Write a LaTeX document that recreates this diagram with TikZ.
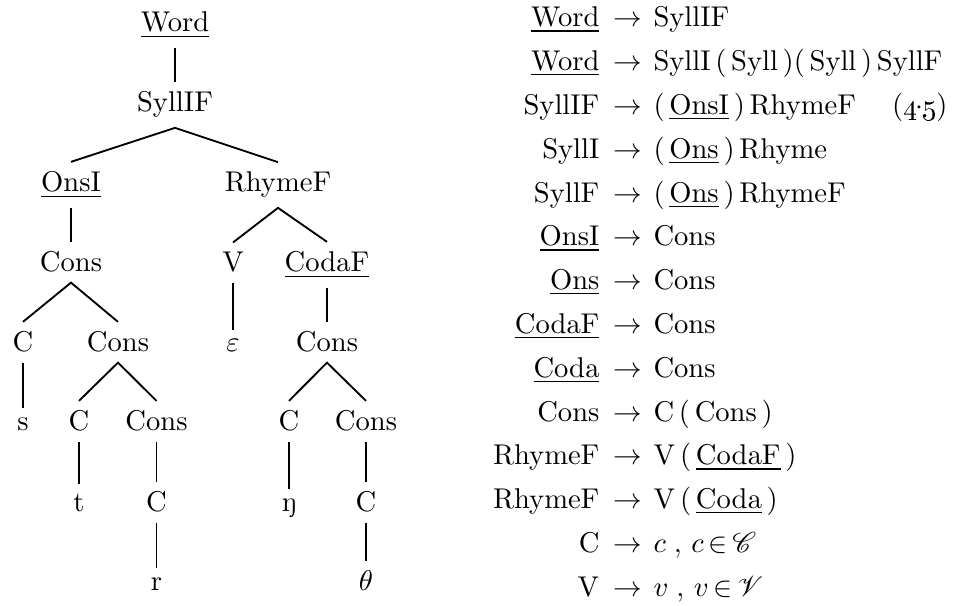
\documentclass[tikz,border=0pt]{standalone}
\usepackage{mathrsfs}
\tikzset{
  tnode/.style={anchor=base, inner xsep=1pt, inner ysep=3.3pt},
  branch/.style={line width=0.65pt},
  lhs/.style={anchor=base east, inner sep=0pt},
  arr/.style={anchor=base, inner sep=0pt},
  rhs/.style={anchor=base west, inner sep=0pt},
}
\newcommand\ulm[1]{\underline{\mathrm{#1}}}
% one production: name, baseline, left side, right side
\newcommand\prodrule[4]{%
  \node[lhs] (#1l) at (600,#2) {$#3$};
  \node[arr] (#1a) at (627.5,#2) {$\rightarrow$};
  \node[rhs] (#1r) at (653,#2) {$#4$};}
\begin{document}
\begin{tikzpicture}[x=0.35pt,y=-0.35pt]
\useasboundingbox (0,0) rectangle (956,606);

% ---- derivation tree ----
\node[tnode] (w)   at (175,32)  {\underline{Word}};
\node[tnode] (s)   at (175,112) {SyllIF};
\node[tnode] (o)   at (71,192)  {\underline{OnsI}};
\node[tnode] (rh)  at (278,192) {RhymeF};
\node[tnode] (c1)  at (71,272)  {Cons};
\node[tnode] (v)   at (233,272) {V};
\node[tnode] (cf)  at (327,272) {\underline{CodaF}};
\node[tnode] (c2)  at (23,352)  {C};
\node[tnode] (c3)  at (118,352) {Cons};
\node[tnode] (e)   at (233,352) {$\varepsilon$};
\node[tnode] (c4)  at (327,352) {Cons};
\node[tnode] (s1)  at (23,431)  {s};
\node[tnode] (c5)  at (79,431)  {C};
\node[tnode] (c6)  at (156.5,431) {Cons};
\node[tnode] (c7)  at (289,431) {C};
\node[tnode] (c8)  at (366,431) {Cons};
\node[tnode] (t)   at (79,512)  {t};
\node[tnode] (c9)  at (156.5,512) {C};
\node[tnode] (eng) at (289,512) {ŋ};
\node[tnode] (c10) at (366,512) {C};
\node[tnode] (r)   at (156.5,591) {r};
\node[tnode] (th)  at (366,591) {$\theta$};

\draw[branch] (w.south) -- (s.north);
\draw[branch] (o.north) -- (s.south) -- (rh.north);
\draw[branch] (o.south) -- (c1.north);
\draw[branch] (v.north) -- (rh.south) -- (cf.north);
\draw[branch] (c2.north) -- (c1.south) -- (c3.north);
\draw[branch] (v.south) -- (e.north);
\draw[branch] (cf.south) -- (c4.north);
\draw[branch] (c2.south) -- (s1.north);
\draw[branch] (c5.north) -- (c3.south) -- (c6.north);
\draw[branch] (c7.north) -- (c4.south) -- (c8.north);
\draw[branch] (c5.south) -- (t.north);
\draw[branch] (c6.south) -- (c9.north);
\draw[branch] (c7.south) -- (eng.north);
\draw[branch] (c8.south) -- (c10.north);
\draw[branch] (c9.south) -- (r.north);
\draw[branch] (c10.south) -- (th.north);

% ---- grammar ----
\prodrule{p1}{27}{\ulm{Word}}{\mathrm{SyllIF}}
\prodrule{p2}{70.8}{\ulm{Word}}{\mathrm{SyllI}\,(\,\mathrm{Syll}\,)(\,\mathrm{Syll}\,)\,\mathrm{SyllF}}
\prodrule{p3}{114.6}{\mathrm{SyllIF}}{(\,\ulm{OnsI}\,)\,\mathrm{RhymeF}}
\prodrule{p4}{158.4}{\mathrm{SyllI}}{(\,\ulm{Ons}\,)\,\mathrm{Rhyme}}
\prodrule{p5}{202.2}{\mathrm{SyllF}}{(\,\ulm{Ons}\,)\,\mathrm{RhymeF}}
\prodrule{p6}{246}{\ulm{OnsI}}{\mathrm{Cons}}
\prodrule{p7}{289.8}{\ulm{Ons}}{\mathrm{Cons}}
\prodrule{p8}{333.6}{\ulm{CodaF}}{\mathrm{Cons}}
\prodrule{p9}{377.4}{\ulm{Coda}}{\mathrm{Cons}}
\prodrule{p10}{421.2}{\mathrm{Cons}}{\mathrm{C}\,(\,\mathrm{Cons}\,)}
\prodrule{p11}{465}{\mathrm{RhymeF}}{\mathrm{V}\,(\,\ulm{CodaF}\,)}
\prodrule{p12}{508.8}{\mathrm{RhymeF}}{\mathrm{V}\,(\,\ulm{Coda}\,)}
\prodrule{p13}{552.6}{\mathrm{C}}{c\;,\,c\,{\in}\,\mathscr{C}}
\prodrule{p14}{596.4}{\mathrm{V}}{v\;,\,v\,{\in}\,\mathscr{V}}
\node[anchor=base east, inner sep=0pt] (eqno) at (948,114.6)
  {(\oldstylenums{4}\kern-0.6pt$\cdot$\kern-0.6pt\oldstylenums{5})};
\end{tikzpicture}
\end{document}
